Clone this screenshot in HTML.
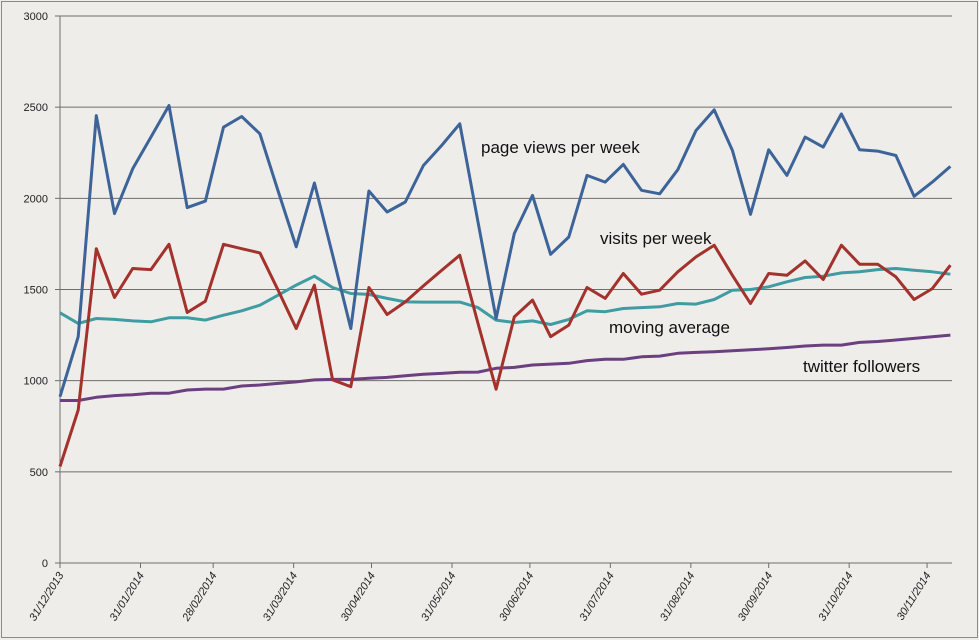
<!DOCTYPE html>
<html><head><meta charset="utf-8"><style>
body{margin:0;background:#efedea;}
svg{display:block;font-family:"Liberation Sans",sans-serif;}
</style></head><body>
<svg id="chart" width="979" height="640" viewBox="0 0 979 640">
<rect x="0" y="0" width="979" height="640" fill="#efedea"/>
<rect x="1.5" y="1.5" width="976" height="636" fill="none" stroke="#8a8a8a" stroke-width="1"/>
<g id="grid"></g><g id="axes"></g><g id="series"></g>
<text x="481" y="153" font-size="17" fill="#111">page views per week</text>
<text x="600" y="244" font-size="17" fill="#111">visits per week</text>
<text x="609" y="333" font-size="17" fill="#111">moving average</text>
<text x="803" y="372" font-size="17" fill="#111">twitter followers</text>
</svg>
<script>
const yTicks=[0,500,1000,1500,2000,2500,3000];
const xTickLabels=["31/12/2013","31/01/2014","28/02/2014","31/03/2014","30/04/2014","31/05/2014","30/06/2014","31/07/2014","31/08/2014","30/09/2014","31/10/2014","30/11/2014"];
const xTickDays=[0,31,59,90,120,151,181,212,243,273,304,334];
const pageViews=[912,1241,2454,1916,2162,2336,2509,1949,1985,2390,2449,2354,2040,1734,2084,1690,1286,2040,1925,1980,2180,2290,2409,1870,1341,1807,2016,1693,1788,2126,2089,2186,2044,2025,2157,2372,2485,2263,1912,2266,2126,2336,2281,2463,2266,2259,2235,2011,2089,2175];
const visits=[529,839,1724,1456,1615,1609,1748,1374,1436,1748,1724,1701,1496,1286,1524,1004,967,1511,1363,1432,1520,1605,1688,1314,953,1350,1442,1241,1305,1511,1451,1588,1474,1496,1597,1679,1743,1578,1423,1588,1578,1657,1555,1743,1639,1639,1569,1445,1505,1633];
const movingAvg=[1372,1314,1341,1336,1328,1323,1345,1345,1332,1359,1383,1414,1469,1524,1573,1511,1478,1473,1451,1432,1431,1431,1431,1401,1332,1319,1328,1308,1336,1383,1378,1396,1401,1405,1423,1420,1445,1496,1500,1515,1542,1566,1573,1591,1597,1609,1615,1606,1597,1584];
const twitter=[891,891,909,918,923,931,931,949,954,954,971,976,985,993,1004,1007,1007,1013,1018,1027,1035,1040,1046,1047,1068,1073,1086,1091,1095,1110,1117,1117,1131,1135,1150,1155,1159,1164,1170,1175,1182,1190,1195,1195,1210,1215,1223,1232,1241,1250];
const NS="http://www.w3.org/2000/svg";
const X0=60,X1=952,Y0=563,Y1=16,DAYPX=2.596;
function yScale(v){return Y0-(v/3000)*(Y0-Y1);}
function xDay(d){return X0+d*DAYPX;}
function xWeek(i){return xDay(i*7);}
function mk(tag,attrs,parent){const e=document.createElementNS(NS,tag);for(const k in attrs)e.setAttribute(k,attrs[k]);parent.appendChild(e);return e;}
const grid=document.getElementById('grid'),axes=document.getElementById('axes'),ser=document.getElementById('series');
yTicks.forEach(v=>{
  const y=yScale(v);
  if(v>0){const l=mk('line',{x1:X0,x2:X1,y1:y,y2:y,stroke:'#6e6e6e','stroke-width':1},grid);
  
  }
  const t=mk('line',{x1:X0-5,x2:X0,y1:y,y2:y,stroke:'#6e6e6e'},axes);
  
  
  const tx=mk('text',{x:X0-12,y:y+4,'font-size':11,'text-anchor':'end',fill:'#222'},axes);
  tx.textContent=v;
  
  
});
const ya=mk('line',{x1:X0,x2:X0,y1:Y1,y2:Y0,stroke:'#6e6e6e'},axes);


const xa=mk('line',{x1:X0,x2:X1,y1:Y0,y2:Y0,stroke:'#6e6e6e'},axes);


xTickDays.forEach((d,i)=>{
  const x=xDay(d);
  const t=mk('line',{x1:x,x2:x,y1:Y0,y2:Y0+5,stroke:'#6e6e6e'},axes);
  
  
  const tx=mk('text',{x:x+4,y:Y0+12,'font-size':11,'font-style':'italic','text-anchor':'end',fill:'#222',transform:'rotate(-58 '+(x+4)+' '+(Y0+12)+')'},axes);
  tx.textContent=xTickLabels[i];
  
  
});
function line(data,color,name){
  const pts=data.map((v,i)=>xWeek(i).toFixed(1)+','+yScale(v).toFixed(1)).join(' ');
  const p=mk('polyline',{points:pts,fill:'none',stroke:color,'stroke-width':3,'stroke-linejoin':'round'},ser);
  
  
}
line(twitter,'#6b3f80','twitter-followers-line');
line(movingAvg,'#3e9ca2','moving-average-line');
line(visits,'#a3322c','visits-line');
line(pageViews,'#3d6499','page-views-line');
</script>
</body></html>
